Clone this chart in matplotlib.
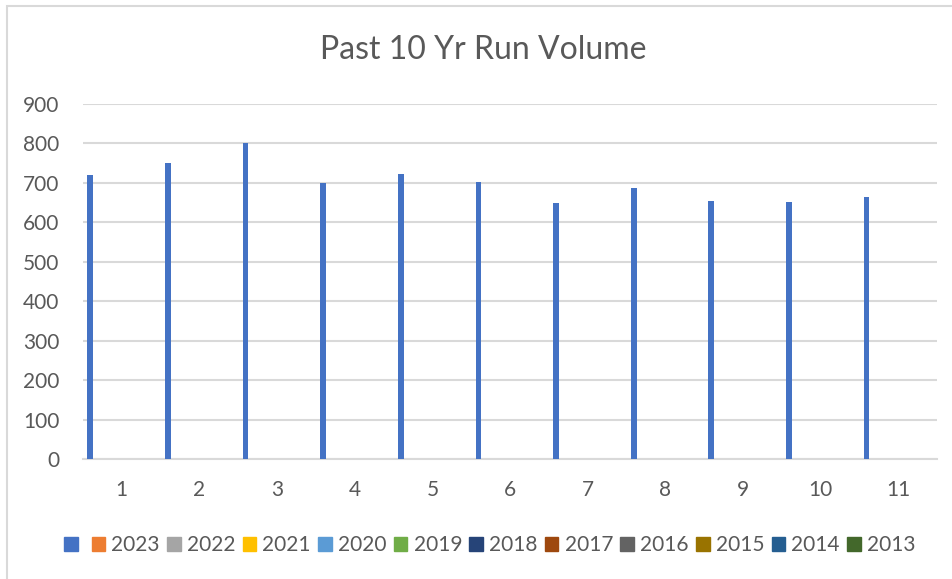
import matplotlib.pyplot as plt
import numpy as np
from matplotlib.patches import Rectangle, Patch

plt.rcParams['font.family'] = ['Lato', 'DejaVu Sans']

categories = [1, 2, 3, 4, 5, 6, 7, 8, 9, 10, 11]
run_volume = [721, 750, 800, 700, 723, 703, 650, 686, 655, 652, 665]
series_names = ['', '2023', '2022', '2021', '2020', '2019', '2018',
                '2017', '2016', '2015', '2014', '2013']
series_colors = ['#4472C4', '#ED7D31', '#A5A5A5', '#FFC000', '#5B9BD5', '#70AD47',
                 '#264478', '#9E480E', '#636363', '#997300', '#255E91', '#43682B']
y_ticks = [0, 100, 200, 300, 400, 500, 600, 700, 800, 900]

W, H = 952, 579
fig = plt.figure(figsize=(W / 100, H / 100), dpi=100)

# chart-area border (only top and left visible in the crop)
fig.patches.append(Rectangle((7 / W, -0.1), 1.2, 1 - 6 / H + 0.1, transform=fig.transFigure,
                             fill=False, edgecolor='#D9D9D9', linewidth=1.5))

ax = fig.add_axes([83 / W, 1 - 459 / H, (937 - 83) / W, (459 - 104) / H])

n = len(series_names)
w = 0.074
x = np.array(categories, dtype=float)
ax.bar(x - (n / 2 - 0.5) * w, run_volume, width=w, color=series_colors[0], zorder=3)

ax.set_xlim(0.5, 11.5)
ax.set_ylim(0, 900)
ax.set_yticks(y_ticks)
ax.set_xticks(categories)
ax.grid(axis='y', color='#D9D9D9', linewidth=1.5)
for s in ['top', 'right', 'left']:
    ax.spines[s].set_visible(False)
ax.spines['bottom'].set_color('#D9D9D9')
ax.spines['bottom'].set_linewidth(1.5)
ax.tick_params(length=0, labelsize=15, labelcolor='#595959')
ax.tick_params(axis='x', pad=15)
ax.tick_params(axis='y', pad=17)

fig.text(483 / W, 1 - 50 / H, 'Past 10 Yr Run Volume', ha='center', va='center',
         fontsize=23, color='#595959')

handles = [Patch(color=c) for c in series_colors]
fig.legend(handles, series_names, loc='center', bbox_to_anchor=(490 / W, 1 - 545 / H),
           ncol=n, frameon=False, fontsize=15, labelcolor='#595959',
           handlelength=0.65, handleheight=0.65, handletextpad=0.3, columnspacing=0.35)

fig.savefig('out.png', dpi=100)
